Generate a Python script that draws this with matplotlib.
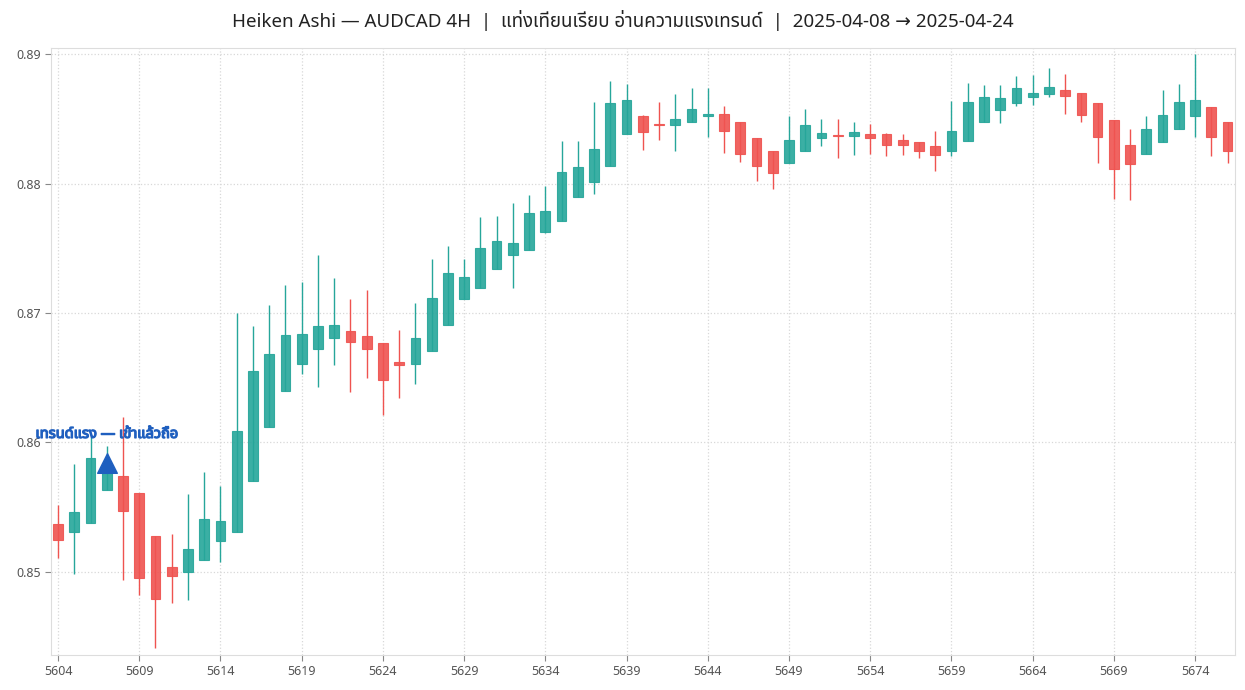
import numpy as np
import matplotlib
matplotlib.use('Agg')
import matplotlib.pyplot as plt
import matplotlib.patheffects as pe
from matplotlib import font_manager

# bar index (4H bars) and Heiken Ashi OHLC
idx = list(range(5604, 5677))
ha_open = [0.8537, 0.8531, 0.8538, 0.8563, 0.8574, 0.8561, 0.8528, 0.8504, 0.8500, 0.8509,
           0.8524, 0.8531, 0.8570, 0.8612, 0.8640, 0.8661, 0.8672, 0.8681, 0.8686, 0.8682,
           0.8677, 0.8662, 0.8661, 0.8671, 0.8691, 0.8711, 0.8719, 0.8734, 0.8745, 0.8749,
           0.8763, 0.8771, 0.8790, 0.8801, 0.8814, 0.8838, 0.8852, 0.88460, 0.8845, 0.8848,
           0.8852, 0.8854, 0.8848, 0.8835, 0.8825, 0.8816, 0.8825, 0.8835, 0.88375, 0.8837,
           0.8838, 0.8838, 0.8834, 0.8832, 0.8829, 0.8825, 0.8833, 0.8848, 0.8857, 0.8862,
           0.8867, 0.8869, 0.8872, 0.8870, 0.8862, 0.8849, 0.8830, 0.8823, 0.8832, 0.8842,
           0.8852, 0.8859, 0.8848]
ha_close = [0.8525, 0.8546, 0.8588, 0.8578, 0.8547, 0.8495, 0.8479, 0.8497, 0.8518, 0.8541,
            0.8539, 0.8609, 0.8655, 0.8668, 0.8683, 0.8684, 0.8690, 0.8691, 0.8678, 0.8672,
            0.8648, 0.8660, 0.8681, 0.8712, 0.8731, 0.8728, 0.8750, 0.8756, 0.8754, 0.8777,
            0.8779, 0.8809, 0.8813, 0.8827, 0.8862, 0.8865, 0.8840, 0.88455, 0.8850, 0.8858,
            0.8854, 0.8841, 0.8823, 0.8814, 0.8808, 0.8834, 0.8845, 0.8839, 0.88370, 0.8840,
            0.8835, 0.8830, 0.8830, 0.8825, 0.8822, 0.8841, 0.8863, 0.8867, 0.8866, 0.8874,
            0.8870, 0.8875, 0.8868, 0.8853, 0.8836, 0.8811, 0.8815, 0.8842, 0.8853, 0.8863,
            0.8865, 0.8836, 0.8825]
ha_high = [0.8552, 0.8583, 0.8606, 0.8597, 0.8620, 0.8561, 0.8528, 0.8529, 0.8560, 0.8577,
           0.8566, 0.8700, 0.8690, 0.8706, 0.8722, 0.8724, 0.8745, 0.8727, 0.8711, 0.8718,
           0.8677, 0.8687, 0.8708, 0.8742, 0.8752, 0.8742, 0.8774, 0.8775, 0.8785, 0.8791,
           0.8798, 0.8833, 0.8833, 0.8863, 0.8879, 0.8877, 0.8853, 0.8863, 0.8869, 0.8874,
           0.8874, 0.8860, 0.8848, 0.8835, 0.8825, 0.8852, 0.8858, 0.8850, 0.8850, 0.8848,
           0.8846, 0.8839, 0.8838, 0.8832, 0.8841, 0.8864, 0.8878, 0.8876, 0.8876, 0.8883,
           0.8884, 0.8889, 0.8885, 0.8870, 0.8862, 0.8849, 0.8842, 0.8852, 0.8872, 0.8877,
           0.8900, 0.8859, 0.8848]
ha_low = [0.8511, 0.8498, 0.8538, 0.8563, 0.8494, 0.8482, 0.8441, 0.8476, 0.8478, 0.8509,
          0.8508, 0.8531, 0.8570, 0.8612, 0.8640, 0.8653, 0.8643, 0.8660, 0.8639, 0.8650,
          0.8621, 0.8634, 0.8645, 0.8671, 0.8691, 0.8711, 0.8719, 0.8734, 0.8719, 0.8749,
          0.8762, 0.8771, 0.8790, 0.8792, 0.8814, 0.8838, 0.8826, 0.8834, 0.8825, 0.8848,
          0.8836, 0.8824, 0.8817, 0.8802, 0.8796, 0.8816, 0.8825, 0.8829, 0.8820, 0.8822,
          0.8823, 0.8821, 0.8822, 0.8820, 0.8810, 0.8821, 0.8833, 0.8848, 0.8847, 0.8860,
          0.8861, 0.8867, 0.8854, 0.8848, 0.8816, 0.8788, 0.8787, 0.8823, 0.8832, 0.8842,
          0.8836, 0.8821, 0.8816]

signal_bar = 5607
signal_price = 0.8584
signal_text = 'เทรนด์แรง — เข้าแล้วถือ'
title = 'Heiken Ashi — AUDCAD 4H  |  แท่งเทียนเรียบ อ่านความแรงเทรนด์  |  2025-04-08 → 2025-04-24'

GREEN = '#26a69a'
RED = '#ef5350'
BLUE = '#1f5fbf'

installed = {f.name for f in font_manager.fontManager.ttflist}
wanted = ['Noto Sans', 'Noto Sans Thai', 'Noto Sans Thai UI', 'Loma', 'Garuda',
          'Tlwg Typo', 'Norasi', 'DejaVu Sans', 'Noto Sans CJK SC']
plt.rcParams['font.family'] = [f for f in wanted if f in installed] or ['DejaVu Sans']

fig, ax = plt.subplots(figsize=(12.45, 6.9), dpi=100)
fig.subplots_adjust(left=0.041, right=0.992, bottom=0.051, top=0.930)

x = np.array(idx)
o = np.array(ha_open)
c = np.array(ha_close)
up = c >= o
colors = np.where(up, GREEN, RED)

ax.vlines(x, ha_low, ha_high, colors=colors, linewidth=1.0, zorder=2)
body_lo = np.minimum(o, c)
body_h = np.maximum(np.abs(c - o), 0.00004)
ax.bar(x, body_h, bottom=body_lo, width=0.6, color=colors, edgecolor=colors,
       linewidth=0.8, alpha=0.9, zorder=3)

ax.scatter([signal_bar], [signal_price], marker='^', s=200, color=BLUE, zorder=5)
# thai font has no bold face here, so thicken the glyphs with a stroke
ax.text(signal_bar, 0.86062, signal_text, ha='center', va='center', fontsize=10.5,
        fontweight='bold', color=BLUE, zorder=6,
        path_effects=[pe.withStroke(linewidth=0.9, foreground=BLUE)])

ax.set_xlim(5603.57, 5676.46)
ax.set_ylim(0.84359, 0.89046)
ax.set_xticks(range(5604, 5677, 5))
ax.set_yticks([0.85, 0.86, 0.87, 0.88, 0.89])
ax.set_yticklabels(['0.85', '0.86', '0.87', '0.88', '0.89'])
ax.tick_params(colors='#555555', labelsize=9, length=4, color='#888888')
ax.grid(True, linestyle=':', color='#d8d8d8', linewidth=0.9)
ax.set_axisbelow(True)
for s in ax.spines.values():
    s.set_color('#dddddd')

fig.suptitle(title, fontsize=13.5, color='#222222', y=0.985)

plt.savefig('out.png', dpi=100)
